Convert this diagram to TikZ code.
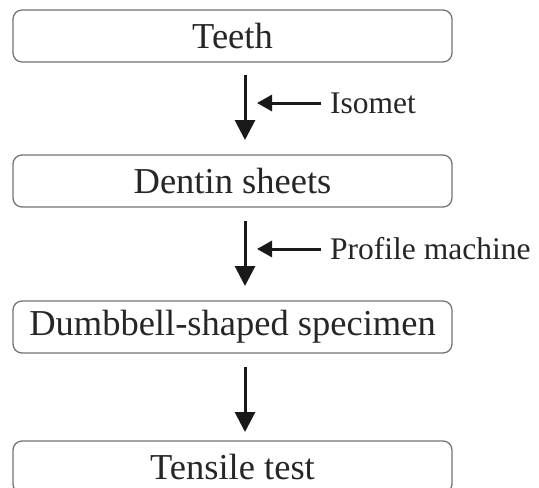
\documentclass[tikz,border=0pt]{standalone}
\usepackage{fontspec}
\setmainfont{Liberation Serif}
\usetikzlibrary{arrows.meta}
\begin{document}
\begin{tikzpicture}[x=1pt,y=-1pt,
  stage/.style={draw=black!55, line width=1.3pt, rounded corners=9pt,
    minimum width=439pt, minimum height=52pt, inner sep=0pt,
    font=\fontsize{36.5}{40}\selectfont, text=black!85},
  flow/.style={line width=3pt, draw=black!90, -{Triangle[length=20pt,width=20pt]}},
  feed/.style={line width=3pt, draw=black!90, -{Triangle[length=15pt,width=16pt]}},
  tool/.style={font=\fontsize{31.5}{34}\selectfont, anchor=west, inner sep=0pt, text=black!85}]
\useasboundingbox (0,0) rectangle (539,488);
\clip (0,0) rectangle (539,488);
\node[stage] (teeth)  at (232.5,36)  {Teeth};
\node[stage] (dentin) at (232.5,181) {Dentin sheets};
\node[stage] (dumb)   at (232.5,327) {Dumbbell-shaped specimen};
\node[stage] (tens)   at (232.5,467) {Tensile test};
\coordinate (a1s) at (245,75);  \coordinate (a1e) at (245,140);
\coordinate (a2s) at (245,221); \coordinate (a2e) at (245,286);
\coordinate (a3s) at (245,367); \coordinate (a3e) at (245,432);
\draw[flow] (a1s) -- (a1e);
\draw[flow] (a2s) -- (a2e);
\draw[flow] (a3s) -- (a3e);
\node[tool] (iso)  at (330,103) {Isomet};
\node[tool] (prof) at (330,249) {Profile machine};
\coordinate (f1) at (257,103);
\coordinate (f2) at (257,249);
\draw[feed] ([xshift=-9pt]iso.west) -- (f1);
\draw[feed] ([xshift=-9pt]prof.west) -- (f2);
\end{tikzpicture}
\end{document}
